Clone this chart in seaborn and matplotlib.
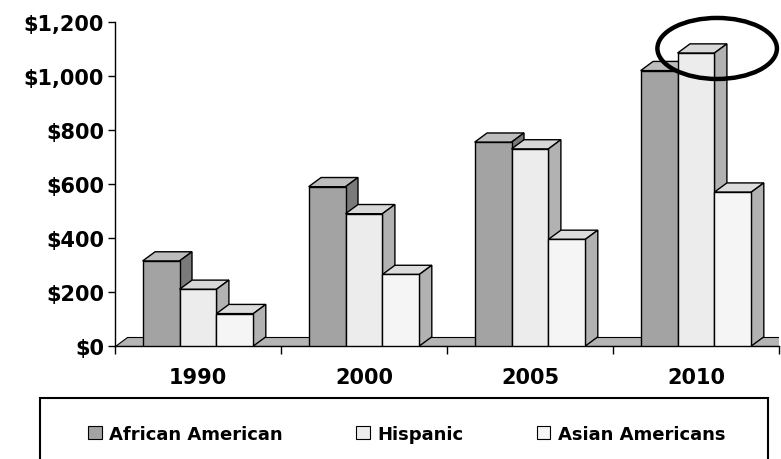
import numpy as np
import pandas as pd
import seaborn as sns
from matplotlib import pyplot as plt
from matplotlib.patches import Polygon, Ellipse, Rectangle, Patch

# values (front face tops)
years = ['1990', '2000', '2005', '2010']
groups = ['African American', 'Hispanic', 'Asian Americans']
african_american = [315, 590, 755, 1020]
hispanic = [210, 490, 730, 1085]
asian_americans = [120, 265, 395, 570]
yticks = [0, 200, 400, 600, 800, 1000, 1200]

df = pd.DataFrame({
    'year': years * 3,
    'group': np.repeat(groups, len(years)),
    'value': african_american + hispanic + asian_americans,
})

sns.set_style('white')
plt.rcParams['font.family'] = ['DejaVu Sans']
plt.rcParams['text.color'] = 'black'
plt.rcParams['xtick.color'] = 'black'
plt.rcParams['ytick.color'] = 'black'

front = ['#a3a3a3', '#ececec', '#f5f5f5']
top = ['#bdbdbd', '#d8d8d8', '#dcdcdc']
side = ['#7a7a7a', '#b2b2b2', '#b2b2b2']

fig = plt.figure(figsize=(7.81, 4.6), dpi=100)
ax = fig.add_axes([115 / 781, 113 / 460, 664 / 781, 324 / 460])

sns.barplot(data=df, x='year', y='value', hue='group', hue_order=groups,
            palette=front, saturation=1, width=0.667, edgecolor='black',
            linewidth=1, legend=False, ax=ax)

ax.set_xlim(-0.5, 3.5)
ax.set_ylim(0, 1200)

# 3d depth offset
dx, dy = 0.075, 34

# floor
ax.add_patch(Polygon([(-0.5, 0), (3.6, 0), (3.6, dy), (-0.5 + dx, dy)],
                     facecolor='#b5b5b5', edgecolor='black', lw=0.8, zorder=1))

for k, cont in enumerate(ax.containers):
    for bar in cont:
        x, w, h = bar.get_x(), bar.get_width(), bar.get_height()
        bar.set_zorder(3 + k)
        ax.add_patch(Polygon([(x, h), (x + w, h), (x + w + dx, h + dy), (x + dx, h + dy)],
                             facecolor=top[k], edgecolor='black', lw=1, zorder=2.5 + k))
        ax.add_patch(Polygon([(x + w, 0), (x + w + dx, dy), (x + w + dx, h + dy), (x + w, h)],
                             facecolor=side[k], edgecolor='black', lw=1, zorder=2.5 + k))

# highlight around 2010 Hispanic
hb = ax.containers[1][3]
ax.add_patch(Ellipse((hb.get_x() + hb.get_width() / 2 + dx * 1.7, hb.get_height() + dy * 0.5),
                     width=0.72, height=226, fill=False, edgecolor='black', lw=3.2,
                     clip_on=False, zorder=10))

ax.set_xlabel('')
ax.set_ylabel('')
ax.set_xticks(range(len(years)))
ax.set_xticklabels(years, fontsize=15, fontweight='bold', color='black')
ax.set_xticks([-0.5, 0.5, 1.5, 2.5, 3.5], minor=True)
ax.set_yticks(yticks)
ax.set_yticklabels([f'${v:,}' for v in yticks], fontsize=15, fontweight='bold', color='black')
ax.tick_params(axis='x', which='major', bottom=True, length=0, pad=15)
ax.tick_params(axis='x', which='minor', bottom=True, length=6, width=1, color='black')
ax.tick_params(axis='y', left=True, length=5, width=1, pad=3, color='black')

for s in ['top', 'right']:
    ax.spines[s].set_visible(False)
for s in ['left', 'bottom']:
    ax.spines[s].set_color('black')
    ax.spines[s].set_linewidth(1)

handles = [Patch(facecolor=front[k], edgecolor='black', lw=0.8) for k in range(3)]
fig.legend(handles, groups, loc='center', bbox_to_anchor=(88 / 781, 0.03, 637 / 781, 0.05),
           ncol=3, mode='expand', frameon=False,
           prop={'weight': 'bold', 'size': 13}, labelcolor='black',
           handlelength=0.75, handleheight=0.75, handletextpad=0.4,
           borderpad=0, borderaxespad=0)
fig.add_artist(Rectangle((40 / 781, -0.01), 728 / 781, 61 / 460 + 0.01,
                         transform=fig.transFigure, fill=False, edgecolor='black', lw=1.5))

fig.savefig('out.png', dpi=100)
